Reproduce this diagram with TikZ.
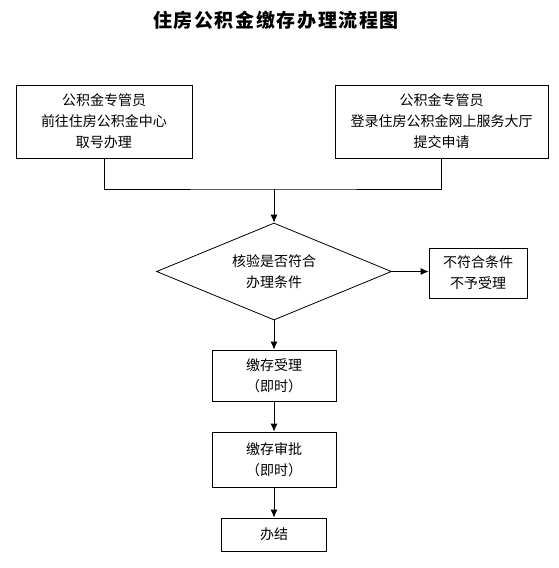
\documentclass[tikz,border=0pt]{standalone}
\usepackage{fontspec}
\setmainfont{Noto Sans CJK SC}
\usepackage{tikz}
\usetikzlibrary{arrows.meta,positioning,shapes.geometric}

\begin{document}
\begin{tikzpicture}[x=1pt,y=-1pt,->,>={Latex[length=8pt,width=7pt]},line width=0.8pt,
	boxnode/.style={rectangle,draw,inner sep=0pt,align=center,font=\fontsize{14}{21}\selectfont},
	diamondnode/.style={diamond,draw,inner sep=0pt,aspect=2.42,align=center,font=\fontsize{14}{21}\selectfont}]
	
	\useasboundingbox (0,0) rectangle (558,568);
	
	\node (t) at (276,20) {\bfseries\fontsize{19}{19}\selectfont\addfontfeature{LetterSpace=8.5}住房公积金缴存办理流程图};
	
	\node [boxnode,minimum width=176pt,minimum height=73pt] (0) at (104,121.5) {公积金专管员\\前往住房公积金中心\\取号办理};
	\node [boxnode,minimum width=213pt,minimum height=73pt] (1) at (441.5,121.5) {公积金专管员\\登录住房公积金网上服务大厅\\提交申请};
	\coordinate (m) at (274,189);
	\node [diamondnode,minimum width=235pt,minimum height=97pt] (2) at (274,271.5) {核验是否符合\\办理条件};
	\node [boxnode,minimum width=98pt,minimum height=50pt] (3) at (478,273) {不符合条件\\不予受理};
	\node [boxnode,minimum width=124pt,minimum height=51pt] (4) at (274,375.5) {缴存受理\\（即时）};
	\node [boxnode,minimum width=124pt,minimum height=55pt] (5) at (274,459.5) {缴存审批\\（即时）};
	\node [boxnode,minimum width=105pt,minimum height=33pt] (6) at (274,534.5) {办结};
	
	\draw[-] (0.south) |- (m) -| (1.south);
	\draw (m) to (2.north);
	\draw (2.east) to (3.west |- 2.east);
	\draw (2.south) to (4.north);
	\draw (4.south) to (5.north);
	\draw (5.south) to (6.north);
\end{tikzpicture}
\end{document}
